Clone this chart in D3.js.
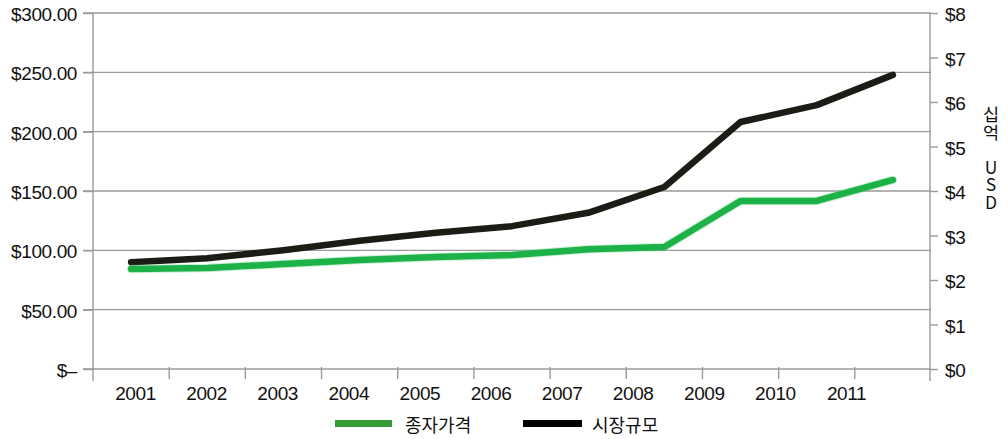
<!DOCTYPE html>
<html>
<head>
<meta charset="utf-8">
<script src="https://cdn.jsdelivr.net/npm/d3@7"></script>
<style>
  html, body { margin: 0; padding: 0; background: #fff; }
  svg { display: block; }
  .tick text { font-family: "Liberation Sans", Arial, sans-serif; font-size: 19px; fill: #111; letter-spacing: -0.4px; }
  .kr { font-family: "Noto Sans CJK KR", sans-serif; fill: #111; }
  .vtitle { writing-mode: vertical-rl; text-orientation: upright; }
</style>
</head>
<body>
<svg id="chart" width="1008" height="439"></svg>
<script>
// Years on the category axis
const years = ["2001","2002","2003","2004","2005","2006","2007","2008","2009","2010","2011"];
// Seed price, USD (left axis)
const seedPrice = [84.3, 85.1, 88.5, 91.9, 94.4, 96.0, 101.0, 102.8, 141.6, 141.6, 159.3];
// Market size, billion USD (right axis)
const marketSize = [2.40, 2.49, 2.67, 2.88, 3.06, 3.21, 3.51, 4.09, 5.55, 5.93, 6.61];
// Tick values for both value axes
const leftTicks = [0, 50, 100, 150, 200, 250, 300];
const rightTicks = [0, 1, 2, 3, 4, 5, 6, 7, 8];
// Legend entries and right axis title
const seriesNames = ["종자가격", "시장규모"];
const rightTitle = "십억 USD";

const svg = d3.select("#chart");
const plotL = 93, plotR = 931, plotT = 13, plotB = 369;
const gridColor = "#9a9a9a";

const x = d3.scaleBand().domain(years).range([plotL, plotR]);
const xLabel = d3.scalePoint().domain(years).range([135, 846]);
const yL = d3.scaleLinear().domain([0, 300]).range([plotB, plotT]);
const yR = d3.scaleLinear().domain([0, 8]).range([plotB, plotT]);

const defs = svg.append("defs");
const f = defs.append("filter").attr("id", "soft").attr("x", "-5%").attr("y", "-20%").attr("width", "110%").attr("height", "140%");
f.append("feGaussianBlur").attr("in", "SourceGraphic").attr("stdDeviation", 0.6);

// horizontal gridlines
svg.append("g").selectAll("line").data(leftTicks).join("line")
  .attr("x1", plotL - 10).attr("x2", plotR)
  .attr("y1", d => yL(d)).attr("y2", d => yL(d))
  .attr("stroke", gridColor).attr("stroke-width", 1.4);

// left axis
const gL = svg.append("g").attr("transform", `translate(${plotL},0)`)
  .call(d3.axisLeft(yL).tickValues(leftTicks).tickSize(10).tickPadding(6)
    .tickFormat(d => d === 0 ? "$–" : d3.format("$.2f")(d)));
gL.select(".domain").remove();
gL.selectAll(".tick line").attr("stroke", gridColor).attr("stroke-width", 1.4);
gL.selectAll(".tick text").attr("dy", "0.4em");

// right axis
const gR = svg.append("g").attr("transform", `translate(${plotR - 1},0)`)
  .call(d3.axisRight(yR).tickValues(rightTicks).tickSize(8).tickPadding(7)
    .tickFormat(d => "$" + d));
gR.select(".domain").remove();
gR.selectAll(".tick line").attr("stroke", gridColor).attr("stroke-width", 1.4);
gR.selectAll(".tick text").attr("dy", "0.4em");

// vertical axis lines
svg.append("g").selectAll("line").data([plotL, plotR - 1]).join("line")
  .attr("x1", d => d).attr("x2", d => d)
  .attr("y1", plotT).attr("y2", plotB + 12)
  .attr("stroke", gridColor).attr("stroke-width", 1.4);

// category boundary ticks
const bounds = years.map(d => x(d)).concat([plotR]);
svg.append("g").selectAll("line").data(bounds.slice(1, -1)).join("line")
  .attr("x1", d => d).attr("x2", d => d)
  .attr("y1", plotB - 2).attr("y2", plotB + 10)
  .attr("stroke", gridColor).attr("stroke-width", 1.4);

// category labels
const gX = svg.append("g").attr("transform", `translate(0,${plotB})`)
  .call(d3.axisBottom(xLabel).tickSize(0).tickPadding(18));
gX.select(".domain").remove();

// series lines
const px = d => x(d) + x.bandwidth() / 2;
const lineL = d3.line().x((d, i) => px(years[i])).y(d => yL(d));
const lineR = d3.line().x((d, i) => px(years[i])).y(d => yR(d));

svg.append("path").datum(marketSize)
  .attr("d", lineR).attr("fill", "none")
  .attr("stroke", "#1d1b14").attr("stroke-width", 6.5)
  .attr("stroke-linejoin", "round").attr("stroke-linecap", "round")
  .attr("filter", "url(#soft)");

svg.append("path").datum(seedPrice)
  .attr("d", lineL).attr("fill", "none")
  .attr("stroke", "#6fd68a").attr("stroke-width", 8.5).attr("opacity", 0.35)
  .attr("stroke-linejoin", "round").attr("stroke-linecap", "round");
svg.append("path").datum(seedPrice)
  .attr("d", lineL).attr("fill", "none")
  .attr("stroke", "#1fb247").attr("stroke-width", 6.5)
  .attr("stroke-linejoin", "round").attr("stroke-linecap", "round")
  .attr("filter", "url(#soft)");

// legend
const legendColors = ["#339933", "#000000"];
const legendX = [335, 523];
const lg = svg.append("g").selectAll("g").data(seriesNames).join("g")
  .attr("transform", (d, i) => `translate(${legendX[i]},420)`);
lg.append("rect").attr("width", (d, i) => i === 0 ? 57 : 59).attr("height", 7)
  .attr("fill", (d, i) => legendColors[i]);
lg.append("text").attr("class", "kr").attr("x", (d, i) => i === 0 ? 70 : 69).attr("y", 12)
  .attr("font-size", 18).text(d => d);

// right axis title, set vertically with upright characters
svg.append("text").attr("class", "kr vtitle")
  .attr("x", 991).attr("y", 106)
  .attr("font-size", 17.5)
  .text(rightTitle);
</script>
</body>
</html>
